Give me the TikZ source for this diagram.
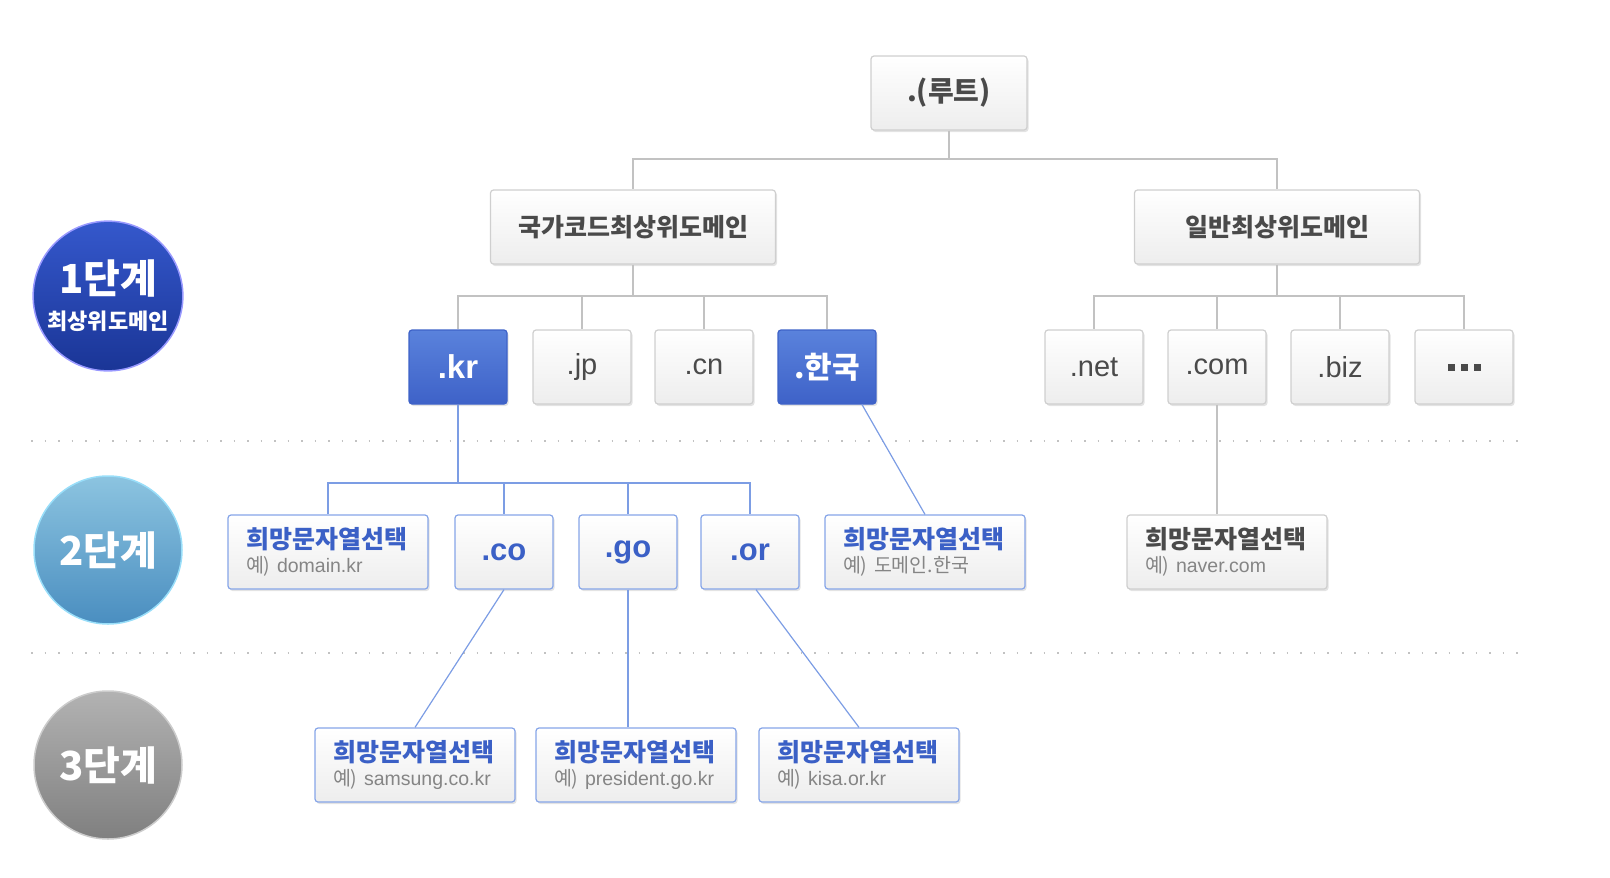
\documentclass[tikz,border=0pt]{standalone}
\usepackage{fontspec}
\setmainfont{Noto Sans CJK KR}
\newfontfamily\latin{Liberation Sans}
\usetikzlibrary{shadows}

\definecolor{linegray}{HTML}{C2C2C2}
\definecolor{lineblue}{HTML}{7C9DE4}
\definecolor{boxgray}{HTML}{CFCFCF}
\definecolor{boxblue}{HTML}{86A5E8}
\definecolor{txtblue}{HTML}{3B60C6}
\definecolor{txtgray}{HTML}{4A4A4A}
\definecolor{krtop}{HTML}{5A82DC}
\definecolor{krbot}{HTML}{3E62C8}
\definecolor{lvonetop}{HTML}{3558CC}
\definecolor{lvonebot}{HTML}{1A3596}
\definecolor{lvtwotop}{HTML}{8CC4E0}
\definecolor{lvtwobot}{HTML}{4A8EC0}

% 희망문자열 상자 안의 두 줄
\newcommand{\wishtext}[2]{{\fontsize{25}{24}\selectfont\bfseries\color{#1}희망문자열선택}\\\mbox{\color{black!48}예) #2}}

\begin{document}
\begin{tikzpicture}
  [x=1pt, y=-1pt,
   box/.style={draw=boxgray, line width=1.2pt, rounded corners=3pt, top color=white, bottom color=black!7,
     minimum height=74pt, minimum width=98pt, inner sep=0pt, text=txtgray,
     drop shadow={opacity=.22, shadow xshift=1.5pt, shadow yshift=-2pt}, font=\latin\fontsize{29}{30}\selectfont},
   wide/.style={box, minimum width=285pt, font=\fontsize{25}{26}\selectfont\bfseries},
   blue/.style={box, draw=krbot, top color=krtop, bottom color=krbot, text=white},
   sub/.style={box, draw=boxblue, text=txtblue, font=\latin\fontsize{31}{32}\selectfont\bfseries},
   wish/.style={box, draw=boxblue, align=left, text width=164pt, inner xsep=18pt, font=\fontsize{19.5}{24}\selectfont},
   wishgray/.style={wish, draw=boxgray},
   level/.style={circle, minimum size=148pt, draw=white!60!#1, line width=1.5pt, text=white, align=center,
     font=\fontsize{40}{42}\selectfont\bfseries},
   gline/.style={draw=linegray, line width=1.2pt},
   bline/.style={draw=lineblue, line width=1.2pt}]

  \useasboundingbox (0,0) rectangle (1610,878);

  % 단계 구분 점선
  \foreach \y in {441,653}
    \draw[linegray, line width=1.5pt, dash pattern=on 1.5pt off 12pt] (31,\y) -- (1520,\y);

  % 단계
  \node[level=blue, top color=lvonetop, bottom color=lvonebot] (l1) at (108,296)
    {1단계\\[-6pt]{\fontsize{22}{24}\selectfont 최상위도메인}};
  \node[level=cyan, top color=lvtwotop, bottom color=lvtwobot] (l2) at (108,550) {2단계};
  \node[level=gray, top color=black!30, bottom color=black!50] (l3) at (108,765) {3단계};

  % 루트와 최상위도메인
  \node[box, minimum width=156pt, font=\fontsize{28}{30}\selectfont\bfseries] (root) at (949,93) {.(루트)};
  \node[wide] (cc)  at (633,227) {국가코드최상위도메인};
  \node[wide] (gen) at (1277,227) {일반최상위도메인};

  \node[blue, font=\latin\fontsize{33}{34}\selectfont\bfseries] (kr) at (458,367) {.kr};
  \node[box]  (jp)  at (582,367) {.jp};
  \node[box]  (cn)  at (704,367) {.cn};
  \node[blue, font=\fontsize{30}{30}\selectfont\bfseries] (han) at (827,367) {.한국};

  \node[box] (net) at (1094,367) {.net};
  \node[box] (com) at (1217,367) {.com};
  \node[box] (biz) at (1340,367) {.biz};
  \node[box] (etc) at (1464,367) {\rule{7pt}{7pt}\hspace{6pt}\rule{7pt}{7pt}\hspace{6pt}\rule{7pt}{7pt}};

  % 2단계
  \node[wish] (dom) at (328,552) {\wishtext{txtblue}{\latin domain.kr}};
  \node[sub]  (co)  at (504,552) {.co};
  \node[sub]  (go)  at (628,552) {.go};
  \node[sub]  (or)  at (750,552) {.or};
  \node[wish] (hdom) at (925,552) {\wishtext{txtblue}{도메인.한국}};
  \node[wishgray] (nav) at (1227,552) {\wishtext{txtgray}{\latin naver.com}};

  % 3단계
  \node[wish] (sam)  at (415,765) {\wishtext{txtblue}{\latin samsung.co.kr}};
  \node[wish] (pres) at (636,765) {\wishtext{txtblue}{\latin president.go.kr}};
  \node[wish] (kisa) at (859,765) {\wishtext{txtblue}{\latin kisa.or.kr}};

  % 연결선
  \coordinate (b0) at (949,159);
  \coordinate (b1) at (633,296);
  \coordinate (b2) at (1277,296);
  \coordinate (b3) at (458,483);

  \draw[gline] (root) -- (b0);
  \foreach \n in {cc, gen}
    \draw[gline] (b0) -| (\n);
  \draw[gline] (cc) -- (b1);
  \foreach \n in {kr, jp, cn, han}
    \draw[gline] (b1) -| (\n);
  \draw[gline] (gen) -- (b2);
  \foreach \n in {net, com, biz, etc}
    \draw[gline] (b2) -| (\n);
  \draw[gline] (com) -- (com |- nav.north);

  \draw[bline] (kr) -- (b3);
  \foreach \n in {dom, co, go, or}
    \draw[bline] (b3) -| (\n);
  \draw[bline] ([xshift=35pt]han.south) -- (hdom.north);
  \draw[bline] (co.south) -- (sam.north);
  \draw[bline] (go.south) -- (go.south |- pres.north);
  \draw[bline] ([xshift=6pt]or.south) -- (kisa.north);
\end{tikzpicture}
\end{document}
